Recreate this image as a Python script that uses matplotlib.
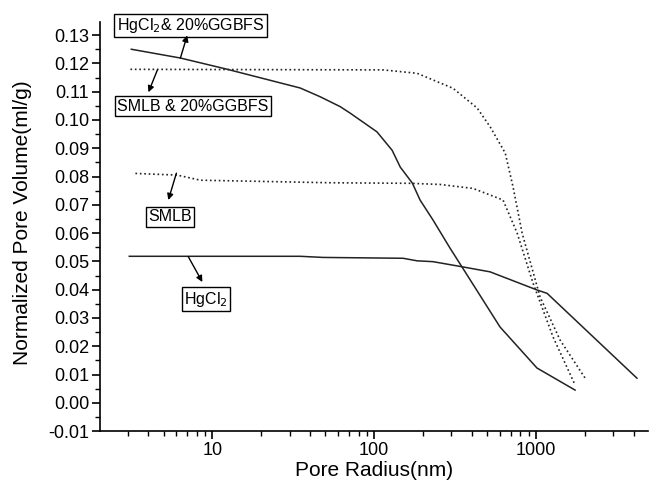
import numpy as np
import matplotlib.pyplot as plt
from matplotlib.ticker import MultipleLocator, LogLocator, NullFormatter, FixedLocator, FixedFormatter

plt.rcParams['font.family'] = ['Liberation Sans', 'DejaVu Sans']

# HgCl2 & 20%GGBFS (linea continua)
r_hg_gg = [3.16, 6.35, 12.2, 34.9, 46.4, 61.7, 71.1, 104, 129, 145, 172, 192, 231, 294, 349, 599, 1013, 1742]
v_hg_gg = [0.125, 0.1219, 0.118, 0.1113, 0.1082, 0.1047, 0.1024, 0.0958, 0.0893, 0.0833, 0.0777, 0.0717,
           0.0646, 0.0547, 0.0480, 0.0268, 0.0123, 0.0045]

# HgCl2 (linea continua)
r_hg = [3.07, 34.9, 48.4, 151, 184, 231, 349, 520, 1013, 1170, 4200]
v_hg = [0.0518, 0.0518, 0.0514, 0.0511, 0.0502, 0.0499, 0.0481, 0.0463, 0.0399, 0.0387, 0.0087]

# SMLB & 20%GGBFS (linea punteggiata)
r_sm_gg = [3.12, 113.7, 184, 307, 433, 520, 645, 721, 820, 1059, 1407, 2005]
v_sm_gg = [0.1179, 0.1177, 0.1165, 0.1112, 0.1042, 0.0976, 0.0883, 0.0763, 0.0600, 0.0374, 0.0222, 0.0088]

# SMLB (linea punteggiata)
r_sm = [3.35, 6.08, 8.43, 53.5, 167, 255, 408, 625, 764, 958, 1273, 1742]
v_sm = [0.0811, 0.0805, 0.0787, 0.0778, 0.0776, 0.0772, 0.0758, 0.0717, 0.0600, 0.0423, 0.0233, 0.0063]

# etichette: testo, centro del riquadro, inizio freccia (sulla curva), punta freccia
labels = ['HgCl$_2$& 20%GGBFS', 'SMLB & 20%GGBFS', 'SMLB', 'HgCl$_2$']
box_pos = [(7.32, 0.1334), (7.58, 0.1049), (5.50, 0.0657), (9.12, 0.0367)]
arrow_from = [(6.35, 0.1219), (4.58, 0.1177), (6.0, 0.0812), (7.1, 0.0517)]
arrow_to = [(7.0, 0.1299), (4.03, 0.1098), (5.35, 0.0717), (8.68, 0.0427)]

fig = plt.figure(figsize=(6.55, 4.91), dpi=100)
ax = fig.add_axes([0.153, 0.122, 0.836, 0.833])

col = '#222222'
ax.plot(r_hg_gg, v_hg_gg, '-', color=col, lw=1.1)
ax.plot(r_hg, v_hg, '-', color=col, lw=1.1)
ax.plot(r_sm_gg, v_sm_gg, ':', color=col, lw=1.2)
ax.plot(r_sm, v_sm, ':', color=col, lw=1.2)

ax.set_xscale('log')
ax.set_xlim(2.03, 4900)
ax.set_ylim(-0.01, 0.1346)

yt = np.round(np.arange(-0.01, 0.1301, 0.01), 2)
ax.yaxis.set_major_locator(FixedLocator(yt))
ax.yaxis.set_major_formatter(FixedFormatter(['%.2f' % v for v in yt]))
ax.yaxis.set_minor_locator(MultipleLocator(0.005))
ax.xaxis.set_major_locator(FixedLocator([10, 100, 1000]))
ax.xaxis.set_major_formatter(FixedFormatter(['10', '100', '1000']))
ax.xaxis.set_minor_locator(LogLocator(base=10, subs=np.arange(2, 10), numticks=20))
ax.xaxis.set_minor_formatter(NullFormatter())

for s in ['top', 'right']:
    ax.spines[s].set_visible(False)
for s in ['left', 'bottom']:
    ax.spines[s].set_linewidth(1.2)
ax.tick_params(which='major', direction='out', length=6, width=1.2, labelsize=13, pad=2)
ax.tick_params(which='minor', direction='out', length=3.5, width=1.0)

ax.set_xlabel('Pore Radius(nm)', fontsize=15, labelpad=1)
ax.set_ylabel('Normalized Pore Volume(ml/g)', fontsize=15, labelpad=10)
ax.yaxis.set_label_coords(-0.125, 0.51)

#riquadri e frecce
box = dict(boxstyle='square,pad=0.15', fc='white', ec='black', lw=1.0)
arr = dict(arrowstyle='-|>', color='black', lw=1.0, mutation_scale=9, shrinkA=0, shrinkB=0)
for t, bp, a0, a1 in zip(labels, box_pos, arrow_from, arrow_to):
    ax.text(bp[0], bp[1], t, fontsize=11.5, ha='center', va='center', bbox=box, clip_on=False)
    ax.annotate('', xy=a1, xytext=a0, arrowprops=arr)

plt.savefig('out.png', dpi=100)
